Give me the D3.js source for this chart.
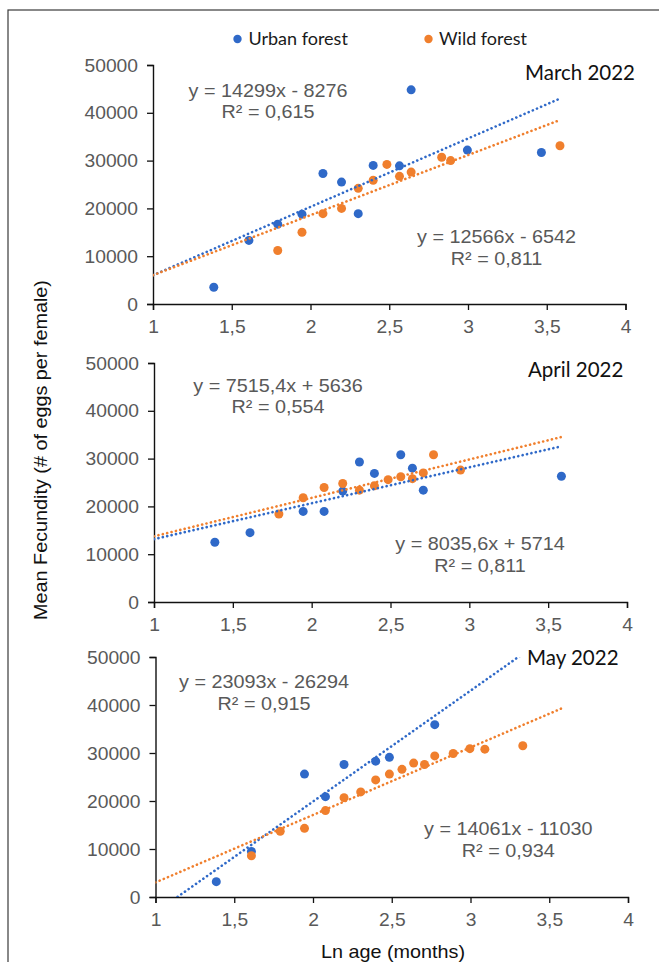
<!DOCTYPE html>
<html>
<head>
<meta charset="utf-8">
<script src="https://cdn.jsdelivr.net/npm/d3@7"></script>
<style>
  html, body { margin: 0; padding: 0; background: #fff; }
  svg { display: block; }
</style>
</head>
<body>
<div id="chart"></div>
<script>
// Axis ticks shared by the three panels
const xTicks = [1, 1.5, 2, 2.5, 3, 3.5, 4];
const yTicks = [0, 10000, 20000, 30000, 40000, 50000];

const seriesNames = ["Urban forest", "Wild forest"];
const panelTitles = ["March 2022", "April 2022", "May 2022"];

// March 2022 (Ln age in months, mean eggs per female)
const marchUrbanX = [1.386, 1.609, 1.792, 1.946, 2.079, 2.197, 2.303, 2.398, 2.565, 2.639, 2.996, 3.466];
const marchUrbanY = [3500, 13300, 16700, 18800, 27300, 25500, 18900, 29000, 28900, 44800, 32200, 31700];
const marchWildX  = [1.792, 1.946, 2.079, 2.197, 2.303, 2.398, 2.485, 2.565, 2.639, 2.833, 2.890, 3.584];
const marchWildY  = [11200, 15000, 18900, 20000, 24200, 25900, 29200, 26700, 27600, 30700, 30000, 33100];

// April 2022
const aprilUrbanX = [1.386, 1.609, 1.946, 2.079, 2.197, 2.303, 2.398, 2.565, 2.639, 2.708, 3.584];
const aprilUrbanY = [12500, 14500, 18950, 18950, 23200, 29300, 26900, 30800, 28000, 23400, 26300];
const aprilWildX  = [1.792, 1.946, 2.079, 2.197, 2.303, 2.398, 2.485, 2.565, 2.639, 2.708, 2.773, 2.944];
const aprilWildY  = [18400, 21800, 23950, 24800, 23400, 24300, 25600, 26200, 25800, 27000, 30800, 27600];

// May 2022
const mayUrbanX = [1.386, 1.609, 1.946, 2.079, 2.197, 2.398, 2.485, 2.773];
const mayUrbanY = [3200, 9500, 25600, 20900, 27600, 28300, 29100, 35900];
const mayWildX  = [1.609, 1.792, 1.946, 2.079, 2.197, 2.303, 2.398, 2.485, 2.565, 2.639, 2.708, 2.773, 2.890, 2.996, 3.091, 3.332];
const mayWildY  = [8600, 13700, 14300, 18000, 20700, 21900, 24400, 25600, 26600, 27900, 27600, 29400, 29900, 30900, 30800, 31500];

// Linear trend lines: [slope, intercept] and R² per panel, urban then wild
const urbanSlopes     = [14299, 7515.4, 23093];
const urbanIntercepts = [-8276, 5636, -26294];
const urbanR2         = ["0,615", "0,554", "0,915"];
const wildSlopes      = [12566, 8035.6, 14061];
const wildIntercepts  = [-6542, 5714, -11030];
const wildR2          = ["0,811", "0,811", "0,934"];

const urbanLabels = ["y = 14299x - 8276", "y = 7515,4x + 5636", "y = 23093x - 26294"];
const wildLabels  = ["y = 12566x - 6542", "y = 8035,6x + 5714", "y = 14061x - 11030"];

const W = 659, H = 962;
const BLUE = "#2f69c8", ORANGE = "#f07f2d";
const GREY = "#595959";
const ARIAL = "'Liberation Sans', Arial, sans-serif";
const HUMAN = "Lato, 'Open Sans', sans-serif";
const SX = 1.1; // horizontal stretch of the sans labels

const svg = d3.select("#chart").append("svg")
  .attr("width", W).attr("height", H);

svg.append("rect").attr("width", W).attr("height", H).attr("fill", "#fff");
// frame
svg.append("rect")
  .attr("x", 8).attr("y", 10).attr("width", W + 20).attr("height", H + 20)
  .attr("fill", "none").attr("stroke", "#3a3a3a").attr("stroke-width", 1.2);

// panel geometry
const panels = [
  { x0: 153, x1: 625.5, yTop: 65, yBot: 304,
    urban: [marchUrbanX, marchUrbanY], wild: [marchWildX, marchWildY],
    eqU: [268, 96.7], eqW: [496.5, 243.3], title: [525, 80] },
  { x0: 154, x1: 627, yTop: 363, yBot: 602,
    urban: [aprilUrbanX, aprilUrbanY], wild: [aprilWildX, aprilWildY],
    eqU: [278, 391.7], eqW: [480, 550], title: [528, 377.3] },
  { x0: 155.5, x1: 628, yTop: 657, yBot: 897,
    urban: [mayUrbanX, mayUrbanY], wild: [mayWildX, mayWildY],
    eqU: [264, 688.3], eqW: [508.3, 835], title: [527, 665] }
];

const fmtX = d => String(d).replace(".", ",");

function stretched(g, x, y, txt, size, anchor, color) {
  return g.append("text")
    .attr("transform", `translate(${x},${y}) scale(${SX},1)`)
    .attr("text-anchor", anchor)
    .attr("font-family", ARIAL)
    .attr("font-size", size)
    .attr("fill", color)
    .text(txt);
}

panels.forEach((p, i) => {
  const x = d3.scaleLinear().domain([1, 4]).range([p.x0, p.x1]);
  const y = d3.scaleLinear().domain([0, 50000]).range([p.yBot, p.yTop]);

  const clipId = "clip" + i;
  svg.append("clipPath").attr("id", clipId).append("rect")
    .attr("x", p.x0).attr("y", p.yTop)
    .attr("width", p.x1 - p.x0).attr("height", p.yBot - p.yTop);

  // axes
  const ya = svg.append("g").attr("transform", `translate(${p.x0},0)`)
    .call(d3.axisLeft(y).tickValues(yTicks).tickSize(6).tickFormat(d3.format("d")));
  const xa = svg.append("g").attr("transform", `translate(0,${p.yBot})`)
    .call(d3.axisBottom(x).tickValues(xTicks).tickSize(6).tickFormat(fmtX));

  [ya, xa].forEach(a => {
    a.select(".domain").attr("stroke", "#111").attr("stroke-width", 1.4);
    a.selectAll(".tick line").attr("stroke", "#111").attr("stroke-width", 1.3);
    a.selectAll(".tick text")
      .attr("font-family", ARIAL).attr("font-size", 17.5).attr("fill", GREY);
  });
  ya.selectAll(".tick text")
    .attr("x", -15 / SX).attr("dy", "0.35em")
    .attr("transform", `scale(${SX},1)`);
  xa.selectAll(".tick text")
    .attr("y", 29.5).attr("dy", null)
    .attr("transform", `scale(${SX},1)`);

  // markers: urban first, wild on top
  const plot = svg.append("g");
  [[p.urban, BLUE], [p.wild, ORANGE]].forEach(([s, col]) => {
    const pts = s[0].map((v, k) => [v, s[1][k]]);
    plot.selectAll(null).data(pts).enter().append("circle")
      .attr("cx", d => x(d[0])).attr("cy", d => y(d[1]))
      .attr("r", 4.5).attr("fill", col);
  });

  // dotted trend lines over the markers
  const trend = svg.append("g").attr("clip-path", `url(#${clipId})`);
  const xs = [1, 3.58];
  [[urbanSlopes[i], urbanIntercepts[i], BLUE], [wildSlopes[i], wildIntercepts[i], ORANGE]]
    .forEach(([m, b, col]) => {
      trend.append("path")
        .datum(xs.map(v => [v, m * v + b]))
        .attr("d", d3.line().x(d => x(d[0])).y(d => y(d[1])))
        .attr("fill", "none").attr("stroke", col)
        .attr("stroke-width", 2.6).attr("stroke-linecap", "round")
        .attr("stroke-dasharray", "0.1 4.4");
    });

  // equation labels
  stretched(svg, p.eqU[0], p.eqU[1], urbanLabels[i], 18, "middle", GREY);
  stretched(svg, p.eqU[0], p.eqU[1] + 21.7, "R² = " + urbanR2[i], 18, "middle", GREY);
  stretched(svg, p.eqW[0], p.eqW[1], wildLabels[i], 18, "middle", GREY);
  stretched(svg, p.eqW[0], p.eqW[1] + 21.7, "R² = " + wildR2[i], 18, "middle", GREY);

  // panel title
  svg.append("text")
    .attr("x", p.title[0]).attr("y", p.title[1])
    .attr("font-family", HUMAN).attr("font-size", 20.5).attr("fill", "#111")
    .text(panelTitles[i]);
});

// legend
const legend = [[237.5, BLUE, 248.5], [428.5, ORANGE, 439]];
legend.forEach((l, k) => {
  svg.append("circle").attr("cx", l[0]).attr("cy", 39).attr("r", 4.2).attr("fill", l[1]);
  svg.append("text").attr("x", l[2]).attr("y", 44.5)
    .attr("font-family", HUMAN).attr("font-size", 18).attr("fill", "#1a1a1a")
    .text(seriesNames[k]);
});

// axis titles
svg.append("text")
  .attr("transform", `translate(47,450) rotate(-90) scale(${SX},1)`)
  .attr("text-anchor", "middle")
  .attr("font-family", ARIAL).attr("font-size", 18).attr("fill", "#111")
  .text("Mean Fecundity (# of eggs per female)");

stretched(svg, 393, 958, "Ln age (months)", 18, "middle", "#111");
</script>
</body>
</html>
